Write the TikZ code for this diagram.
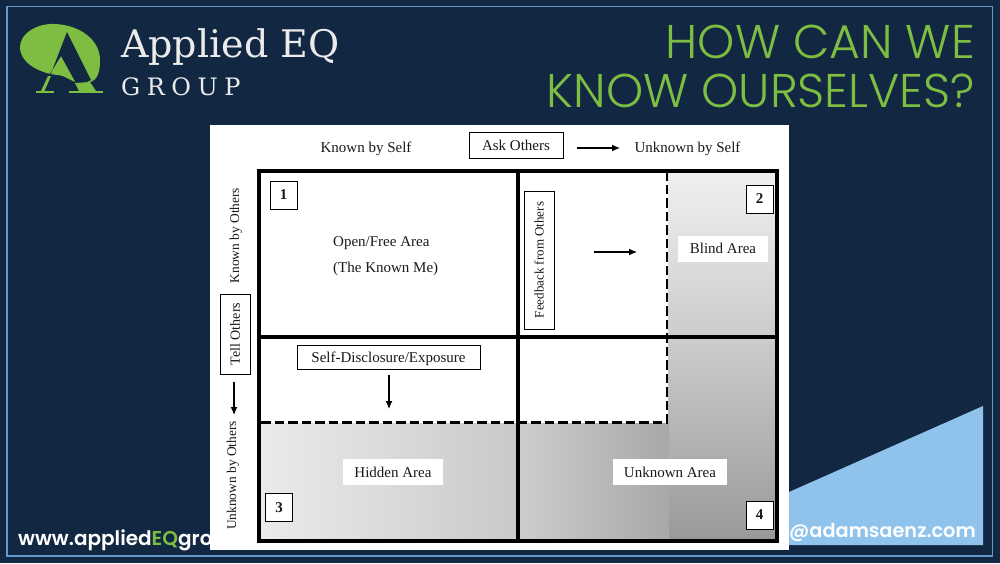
\documentclass[tikz,border=0pt]{standalone}
\usepackage{fontspec}
\usepackage{tikz}
\usetikzlibrary{arrows.meta}
\setmainfont{Liberation Serif}
\newfontfamily\titlefont{Poppins Light}
\newfontfamily\footfont{Poppins SemiBold}
\newfontfamily\brandfont{DejaVu Serif}
\definecolor{SlideNavy}{RGB}{18, 40, 66}
\definecolor{SlideGreen}{RGB}{125, 190, 66}
\definecolor{SlideBlue}{RGB}{143, 195, 236}
\definecolor{SlideFrame}{RGB}{98, 155, 203}
\tikzset{
    gridline/.style={line width=3.6pt, black},
    dashline/.style={line width=2.2pt, black, dash pattern=on 9.5pt off 4pt},
    flowarrow/.style={line width=1.2pt, black, -{Latex[length=8pt,width=7pt]}},
    label/.style={font=\fontsize{15}{17}\selectfont, text=black!90, inner sep=0pt},
    sidelabel/.style={label, rotate=90, font=\fontsize{13.4}{15}\selectfont},
    boxed/.style={label, draw=black, line width=1pt, fill=white, minimum height=25pt},
    numbox/.style={boxed, font=\fontsize{15}{17}\selectfont\bfseries, minimum width=27pt, minimum height=28pt},
    areabox/.style={label, fill=white, minimum height=26pt}
}
\begin{document}
\begin{tikzpicture}[x=1pt,y=-1pt]
\useasboundingbox (0,0) rectangle (1000,563);
\fill[SlideNavy] (0,0) rectangle (1000,563);
\draw[SlideFrame, line width=1.2pt] (7,6.5) rectangle (992.5,556);
% corner triangle and footer
\fill[SlideBlue] (780,496) -- (983,406) -- (983,545) -- (780,545) -- cycle;
\node[anchor=west, inner sep=0pt, text=white, font=\footfont\fontsize{20}{22}\selectfont] (footleft) at (18,540) {www.applied{\color{SlideGreen}EQ}gro};
% logo
\fill[SlideGreen] (20,47) .. controls (20,33) and (38,23) .. (55,24)
    .. controls (80,25) and (100,40) .. (100,60)
    .. controls (100,74) and (97,83) .. (84,83)
    .. controls (72,84) and (68,76) .. (58,75)
    .. controls (42,74) and (20,64) .. (20,47) -- cycle;
\fill[SlideNavy] (67,32) -- (91,80) -- (85,83) -- (76,83) -- (61,56) -- (48,77) -- (50,76) -- cycle;
\fill[SlideGreen] (48,76) -- (51,76) -- (44.5,91) -- (41,91) -- cycle;
\fill[SlideGreen] (75,83) -- (90,82) -- (96,91) -- (79,91) -- cycle;
\fill[SlideGreen] (36,91) rectangle (54,93);
\fill[SlideGreen] (69,91) rectangle (103,93);
\node[anchor=base west, inner sep=0pt, text=white!92!black, font=\brandfont\fontsize{38}{40}\selectfont] (brand) at (121,57) {Applied EQ};
\node[anchor=base west, inner sep=0pt, text=white!92!black, font=\brandfont\fontsize{24}{26}\selectfont\addfontfeature{LetterSpace=27}] (group) at (121,95) {GROUP};
% heading
\node[anchor=base east, inner sep=0pt, text=SlideGreen, font=\titlefont\fontsize{47.3}{50}\selectfont] (titleone) at (975,58) {HOW CAN WE};
\node[anchor=base east, inner sep=0pt, text=SlideGreen, font=\titlefont\fontsize{47.3}{50}\selectfont] (titletwo) at (975,107) {KNOW OURSELVES?};
\node[anchor=west, inner sep=0pt, text=white, font=\footfont\fontsize{19.3}{22}\selectfont] (footright) at (789,532) {@adamsaenz.com};
% paper
\fill[white] (210,125) rectangle (789,550);
% shaded areas
\shade[top color=black!6, bottom color=black!20] (668.5,173) rectangle (775,335.5);
\shade[top color=black!20, bottom color=black!40] (668.5,338.5) rectangle (775,539.5);
\shade[left color=black!8, right color=black!21] (261,423) rectangle (516.5,539.5);
\shade[left color=black!20, right color=black!34] (519.5,423) rectangle (668.5,539.5);
% grid
\draw[gridline] (259,171) rectangle (777,541);
\coordinate (midtop) at (518,171);
\coordinate (midbot) at (518,541);
\coordinate (midleft) at (259,337);
\coordinate (midright) at (777,337);
\draw[gridline] (midtop) -- (midbot);
\draw[gridline] (midleft) -- (midright);
\coordinate (dashtop) at (667,173);
\coordinate (dashcorner) at (667,422.5);
\coordinate (dashleft) at (261,422.5);
\draw[dashline] (dashleft) -- (dashcorner) -- (dashtop);
% headings round the grid
\node[label] (knownself) at (366,149) {Known by Self};
\node[boxed, minimum width=94pt, minimum height=26pt] (askothers) at (516,145) {Ask Others};
\node[label] (unknownself) at (687.5,149) {Unknown by Self};
\coordinate (askfrom) at (577,148);
\coordinate (askto) at (620,148);
\draw[flowarrow] (askfrom) -- (askto);
\node[sidelabel] (knownothers) at (236,235.5) {Known by Others};
\node[boxed, rotate=90, font=\fontsize{14}{16}\selectfont, minimum width=80pt, minimum height=30pt] (tellothers) at (235,334) {Tell Others};
\coordinate (tellfrom) at (234,382);
\coordinate (tellto) at (234,415);
\draw[flowarrow] (tellfrom) -- (tellto);
\node[sidelabel] (unknownothers) at (233,475.5) {Unknown by Others};
% inside the grid
\node[numbox] (one) at (283.5,195) {1};
\node[numbox] (two) at (759.5,199) {2};
\node[numbox] (three) at (279,507.5) {3};
\node[numbox] (four) at (759.5,515) {4};
\node[label, anchor=west] (openarea) at (333,243) {Open/Free Area};
\node[label, anchor=west] (knownme) at (333,269) {(The Known Me)};
\node[boxed, rotate=90, font=\fontsize{13}{15}\selectfont, minimum width=138pt, minimum height=30pt] (feedback) at (539,260) {Feedback from Others};
\coordinate (feedfrom) at (594,252);
\coordinate (feedto) at (637,252);
\draw[flowarrow] (feedfrom) -- (feedto);
\node[areabox, text height=12pt, text depth=2pt, minimum width=90pt] (blind) at (723,248.5) {Blind Area};
\node[boxed, text height=12pt, text depth=2pt, minimum width=183pt, minimum height=24pt] (disclosure) at (388.5,357) {Self-Disclosure/Exposure};
\coordinate (selffrom) at (389,375);
\coordinate (selfto) at (389,409);
\draw[flowarrow] (selffrom) -- (selfto);
\node[areabox, minimum width=100pt] (hidden) at (393,472) {Hidden Area};
\node[areabox, minimum width=114pt] (unknown) at (670,472) {Unknown Area};
\end{tikzpicture}
\end{document}
